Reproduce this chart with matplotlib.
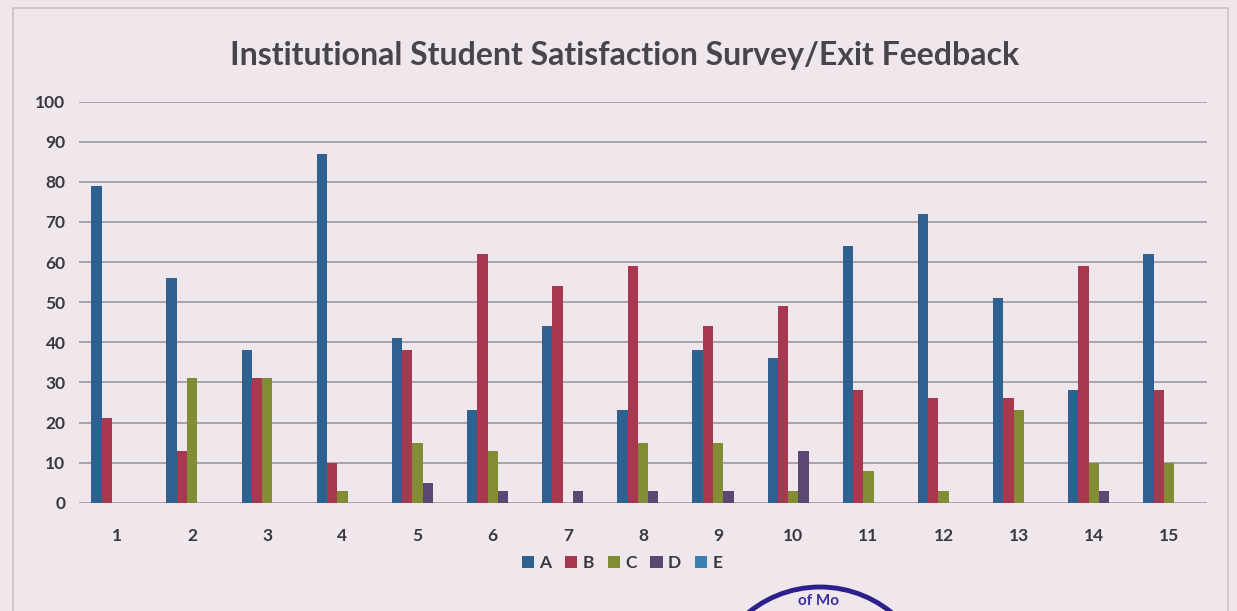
import matplotlib
matplotlib.use("Agg")
import matplotlib.pyplot as plt
import numpy as np
from matplotlib.patches import Circle, Rectangle, Patch

categories = [str(i) for i in range(1, 16)]
series_names = ["A", "B", "C", "D", "E"]
A = [79, 56, 38, 87, 41, 23, 44, 23, 38, 36, 64, 72, 51, 28, 62]
B = [21, 13, 31, 10, 38, 62, 54, 59, 44, 49, 28, 26, 26, 59, 28]
C = [0, 31, 31, 3, 15, 13, 0, 15, 15, 3, 8, 3, 23, 10, 10]
D = [0, 0, 0, 0, 5, 3, 3, 3, 3, 13, 0, 0, 0, 3, 0]
E = [0, 0, 0, 0, 0, 0, 0, 0, 0, 0, 0, 0, 0, 0, 0]
yticks = list(range(0, 101, 10))
title = "Institutional Student Satisfaction Survey/Exit Feedback"

colors = ["#2e6190", "#a8384f", "#828c34", "#5a4872", "#3c7fb0"]
bg = "#efe7eb"
txt = "#3a383e"

plt.rcParams['font.family'] = ['Lato', 'DejaVu Sans']

W, H = 1237, 611
fig = plt.figure(figsize=(W / 100, H / 100), dpi=100, facecolor=bg)

# chart border
fig.patches.append(Rectangle((13 / W, -0.05), (1228 - 13) / W, 1 - 8 / H + 0.05,
                             transform=fig.transFigure, fill=False,
                             edgecolor="#c9c2c8", linewidth=1.2, zorder=0))

ax = fig.add_axes([79.4 / W, 1 - 502.7 / H, 1127.2 / W, (502.7 - 101.7) / H])
ax.set_facecolor(bg)
x = np.arange(1, 16)
w = 0.137
data = [A, B, C, D, E]
for i, (name, vals) in enumerate(zip(series_names, data)):
    ax.bar(x + (i - 2) * w, vals, width=w, color=colors[i], label=name, zorder=3)

ax.set_xlim(0.5, 15.5)
ax.set_ylim(0, 100)
ax.set_yticks(yticks)
ax.set_xticks(x)
ax.set_xticklabels(categories)
ax.grid(axis="y", color="#948f99", linewidth=1.1, zorder=0)
for s in ax.spines.values():
    s.set_visible(False)
ax.tick_params(length=0, labelsize=12.5, colors=txt)
ax.tick_params(axis="x", pad=18)
ax.tick_params(axis="y", pad=10)
for lab in ax.get_xticklabels() + ax.get_yticklabels():
    lab.set_fontweight("bold")

fig.text(625 / W, 1 - 55 / H, title, ha="center", va="center",
         fontsize=23, fontweight="bold", color="#47454b")

handles = [Patch(facecolor=colors[i], label=series_names[i]) for i in range(5)]
leg = fig.legend(handles=handles, loc="center", bbox_to_anchor=(622 / W, 1 - 563 / H),
                 ncol=5, frameon=False, handlelength=0.7, handleheight=0.7,
                 handletextpad=0.3, columnspacing=0.8, fontsize=12.5)
for t in leg.get_texts():
    t.set_color(txt)
    t.set_fontweight("bold")

# partial stamp at bottom
stamp = Circle((8.20, (H - 700) / 100), 1.13, transform=fig.dpi_scale_trans,
               fill=False, edgecolor="#2b1f8c", linewidth=3.5, zorder=5)
fig.patches.append(stamp)
fig.text(818 / W, 1 - 601 / H, "of Mo", ha="center", va="center", fontsize=11,
         fontweight="bold", color="#3b2fa0")

fig.savefig("out.png", dpi=100, facecolor=bg)
